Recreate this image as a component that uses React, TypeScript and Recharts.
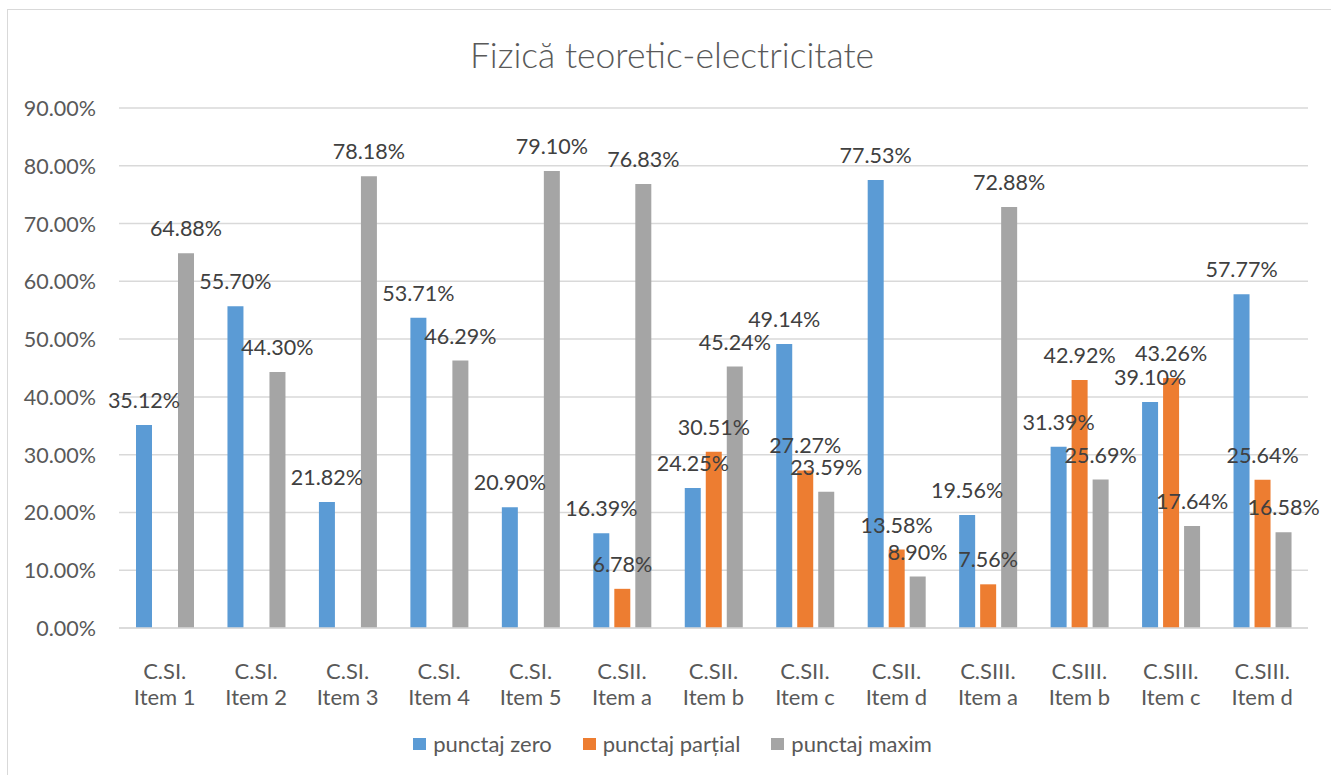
import React from "react";
import { BarChart, Bar, XAxis, YAxis, CartesianGrid, Legend, LabelList } from "recharts";

const categories = [
  "C.SI.|Item 1", "C.SI.|Item 2", "C.SI.|Item 3", "C.SI.|Item 4", "C.SI.|Item 5",
  "C.SII.|Item a", "C.SII.|Item b", "C.SII.|Item c", "C.SII.|Item d",
  "C.SIII.|Item a", "C.SIII.|Item b", "C.SIII.|Item c", "C.SIII.|Item d",
];
const punctajZero = [35.12, 55.7, 21.82, 53.71, 20.9, 16.39, 24.25, 49.14, 77.53, 19.56, 31.39, 39.1, 57.77];
const punctajPartial = [null, null, null, null, null, 6.78, 30.51, 27.27, 13.58, 7.56, 42.92, 43.26, 25.64];
const punctajMaxim = [64.88, 44.3, 78.18, 46.29, 79.1, 76.83, 45.24, 23.59, 8.9, 72.88, 25.69, 17.64, 16.58];
const yTicks = [0, 10, 20, 30, 40, 50, 60, 70, 80, 90];

const seriesNames = ["punctaj zero", "punctaj parțial", "punctaj maxim"];
const colors = ["#5B9BD5", "#ED7D31", "#A5A5A5"];

const data = categories.map((c, i) => ({
  name: c,
  zero: punctajZero[i],
  partial: punctajPartial[i],
  maxim: punctajMaxim[i],
}));

const FONT = "Lato, 'Open Sans', sans-serif";
const TEXT = "#595959";

const renderLabel = (props: any) => {
  const { x, y, width, value } = props;
  if (value === null || value === undefined) return null;
  return (
    <text
      x={Number(x) + Number(width) / 2}
      y={Number(y) - 25}
      textAnchor="middle"
      dominantBaseline="central"
      fontSize={21.5}
      fontFamily={FONT}
      fill={"#404040"}
    >
      {Number(value).toFixed(2)}%
    </text>
  );
};

const XTick = (props: any) => {
  const { x, y, payload } = props;
  const [a, b] = String(payload.value).split("|");
  return (
    <g>
      <text x={x} y={y + 34} textAnchor="middle" dominantBaseline="central" fontSize={22} fontFamily={FONT} fill={TEXT}>{a}</text>
      <text x={x} y={y + 60} textAnchor="middle" dominantBaseline="central" fontSize={22} fontFamily={FONT} fill={TEXT}>{b}</text>
    </g>
  );
};

const YTick = (props: any) => {
  const { y, payload } = props;
  return (
    <text x={96} y={y} textAnchor="end" dominantBaseline="central" fontSize={21.5} fontFamily={FONT} fill={TEXT}>
      {Number(payload.value).toFixed(2)}%
    </text>
  );
};

const LegendContent = () => (
  <div style={{ display: "flex", justifyContent: "center", alignItems: "center", fontFamily: FONT, fontSize: 22, color: TEXT, paddingLeft: 14 }}>
    {seriesNames.map((n, i) => (
      <div key={n} style={{ display: "flex", alignItems: "center", marginRight: i < 2 ? 31 : 0 }}>
        <div style={{ width: 13, height: 12, background: colors[i], marginRight: 7 }} />
        <span>{n}</span>
      </div>
    ))}
  </div>
);

export default function App() {
  return (
    <div style={{ position: "absolute", left: 0, top: 0, width: 1331, height: 775, overflow: "hidden", background: "#fff" }}>
      <div style={{ position: "absolute", left: 7, top: 9, width: 1400, height: 900, border: "1px solid #D9D9D9" }} />
      <div style={{ position: "absolute", left: 0, top: 0 }}>
        <BarChart
          width={1331}
          height={775}
          data={data}
          margin={{ top: 108, right: 23, left: 39, bottom: 67 }}
          barSize={16}
          barGap={5}
        >
          <text x={672} y={54} textAnchor="middle" dominantBaseline="central" fontSize={35.5} fontWeight={300} fontFamily={FONT} fill={TEXT}>
            Fizică teoretic-electricitate
          </text>
          <CartesianGrid vertical={false} stroke="#D9D9D9" strokeWidth={1.5} />
          <XAxis
            dataKey="name"
            height={80}
            tick={<XTick />}
            tickLine={false}
            axisLine={{ stroke: "#D9D9D9", strokeWidth: 1.5 }}
            interval={0}
          />
          <YAxis
            width={80}
            domain={[0, 90]}
            ticks={yTicks}
            tick={<YTick />}
            tickLine={false}
            axisLine={false}
            interval={0}
          />
          <Legend
            verticalAlign="middle"
            align="center"
            layout="horizontal"
            content={<LegendContent />}
            wrapperStyle={{ top: 730, left: 0, width: 1331 }}
          />
          <Bar dataKey="zero" name={seriesNames[0]} fill={colors[0]} isAnimationActive={false}>
            <LabelList dataKey="zero" content={renderLabel} />
          </Bar>
          <Bar dataKey="partial" name={seriesNames[1]} fill={colors[1]} isAnimationActive={false}>
            <LabelList dataKey="partial" content={renderLabel} />
          </Bar>
          <Bar dataKey="maxim" name={seriesNames[2]} fill={colors[2]} isAnimationActive={false}>
            <LabelList dataKey="maxim" content={renderLabel} />
          </Bar>
        </BarChart>
      </div>
    </div>
  );
}
